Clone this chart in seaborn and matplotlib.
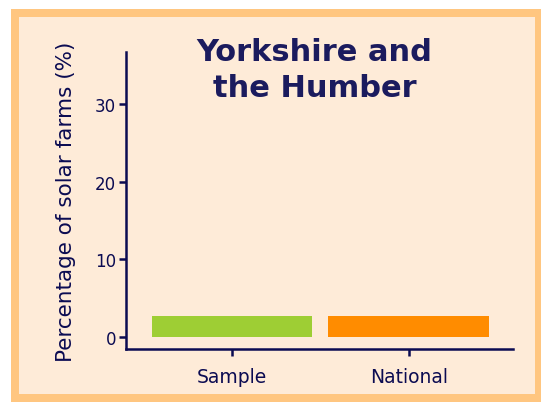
import matplotlib
matplotlib.use("Agg")
import matplotlib.pyplot as plt
import seaborn as sns
import pandas as pd
from matplotlib.patches import Rectangle

categories = ["Sample", "National"]
values = [2.7, 2.7]
bar_colors = ["#9ECE34", "#FF8C00"]
yticks = [0, 10, 20, 30]
title = "Yorkshire and\nthe Humber"
ylabel = "Percentage of solar farms (%)"

navy = "#0B0B52"
title_color = "#1B1B5E"
bg = "#FEEBD8"
border = "#FFC680"

sns.set_theme(style="white")
plt.rcParams['font.family'] = ['DejaVu Sans']

fig = plt.figure(figsize=(5.41, 4.06), dpi=100)
fig.patch.set_facecolor("white")
W, H = 541, 406
frame = Rectangle((15 / W, 1 - 399 / H), (539 - 15) / W, (399 - 14) / H,
                  transform=fig.transFigure, facecolor=bg, edgecolor=border,
                  linewidth=8 * 72 / 100, zorder=-10)
fig.add_artist(frame)

ax = fig.add_axes([126 / W, 1 - 350 / H, (513 - 126) / W, (350 - 53) / H])
ax.set_zorder(1)
ax.set_facecolor("none")

df = pd.DataFrame({"cat": categories, "val": values})
sns.barplot(data=df, x="cat", y="val", hue="cat", palette=bar_colors, width=0.91,
            legend=False, ax=ax, saturation=1, linewidth=0)

ax.set_xlim(-0.6, 1.59)
ax.set_ylim(-1.54, 36.7)
ax.set_yticks(yticks)
ax.set_xlabel("")
ax.set_ylabel(ylabel, fontsize=15.5, color=navy, labelpad=14)
for s in ["top", "right"]:
    ax.spines[s].set_visible(False)
for s in ["left", "bottom"]:
    ax.spines[s].set_color(navy)
    ax.spines[s].set_linewidth(1.8)
ax.tick_params(axis="both", colors=navy, length=5, width=1.8, labelsize=12, left=True, bottom=True)
ax.tick_params(axis="x", pad=8, labelsize=13.5)
ax.tick_params(axis="y", pad=2)

fig.text(314.5 / W, 1 - 38 / H, title, ha="center", va="top", fontsize=22,
         fontweight="bold", color=title_color, linespacing=1.3)

fig.savefig("out.png", dpi=100, facecolor=fig.get_facecolor())
